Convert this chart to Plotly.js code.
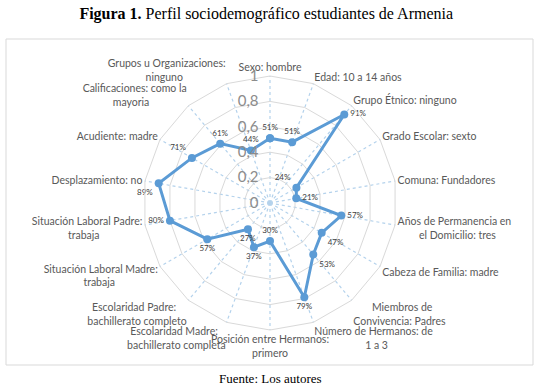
<!DOCTYPE html>
<html>
<head>
<meta charset="utf-8">
<script src="https://cdn.plot.ly/plotly-3.0.1.min.js"></script>
<style>html,body{margin:0;padding:0;background:#fff;}#chart{width:540px;height:389px;}</style>
</head>
<body>
<div id="chart"></div>
<script>
var categories = [
  "Sexo: hombre",
  "Edad: 10 a 14 años",
  "Grupo Étnico: ninguno",
  "Grado Escolar: sexto",
  "Comuna: Fundadores",
  "Años de Permanencia en<br>el Domicilio: tres",
  "Cabeza de Familia: madre",
  "Miembros de<br>Convivencia: Padres",
  "Número de Hermanos: de<br>1 a 3",
  "Posición entre Hermanos:<br>primero",
  "Escolaridad Madre:<br>bachillerato completa",
  "Escolaridad Padre:<br>bachillerato completo",
  "Situación Laboral Madre:<br>trabaja",
  "Situación Laboral Padre:<br>trabaja",
  "Desplazamiento: no",
  "Acudiente: madre",
  "Calificaciones: como la<br>mayoria",
  "Grupos u Organizaciones:<br>ninguno"
];
var values = [0.51, 0.51, 0.91, 0.24, 0.21, 0.57, 0.47, 0.53, 0.79, 0.30, 0.37, 0.27, 0.57, 0.80, 0.89, 0.71, 0.61, 0.44];
var labelPositions = ["top center","top center","middle right","top left","middle right","middle right","bottom right","bottom right","bottom center","top center","bottom center","bottom center","bottom center","middle left","bottom left","top left","top center","top center"];
var radialTicks = [0, 0.2, 0.4, 0.6, 0.8, 1];
var radialTickText = ["0", "0,2", "0,4", "0,6", "0,8", "1"];

var HIDE = '<span style="color:rgba(0,0,0,0)">';
// center multi-line category labels (Excel style) by padding shorter lines
var ctx = document.createElement('canvas').getContext('2d');
ctx.font = '10.5px Lato';
function w(s){ return ctx.measureText(s).width; }
var nbsp = '\u00a0';
var spW = w(nbsp) || 2.9;
function repeat(s, n){ var o=''; for (var k=0;k<n;k++) o+=s; return o; }
var shown = categories.map(function(lab, i){
  var lines = lab.split('<br>');
  if (lines.length < 2) return lab;
  var ang = (90 - i * 360 / categories.length) * Math.PI / 180;
  var c = Math.cos(ang);
  if (Math.abs(c) < 0.1) return lab;
  var ws = lines.map(w);
  var W = Math.max.apply(null, ws);
  return lines.map(function(l, j){
    var n = Math.round((W - ws[j]) / 2 / spW);
    if (n <= 0) return l;
    var pad = repeat(nbsp, n);
    return c > 0 ? HIDE + '.' + '</span>' + pad + l : l + pad + HIDE + '.</span>';
  }).join('<br>');
});

var theta = shown.concat([shown[0]]);
var r = values.concat([values[0]]);
var txt = values.map(function(v){return Math.round(v*100)+'%';}).concat(['']);
var tpos = labelPositions.concat(['top center']);

var trace = {
  type: 'scatterpolar',
  mode: 'lines+markers+text',
  r: r,
  theta: theta,
  text: txt,
  textposition: tpos,
  textfont: {family: 'Lato, sans-serif', size: 8, color: '#404040'},
  line: {color: '#5b9bd5', width: 3},
  marker: {color: '#5b9bd5', size: 8},
  hoverinfo: 'none',
  cliponaxis: false
};

var layout = {
  width: 540, height: 389,
  margin: {l: 0, r: 0, t: 0, b: 0},
  paper_bgcolor: '#ffffff',
  showlegend: false,
  separators: ', ',
  title: {
    text: '<b>Figura 1.</b> Perfil sociodemográfico estudiantes de Armenia',
    font: {family: 'Liberation Serif, serif', size: 16, color: '#000'},
    x: 0.493, xref: 'paper', xanchor: 'center',
    y: 0.966, yref: 'container', yanchor: 'middle'
  },
  polar: {
    domain: {x: [143/540, 397/540], y: [59/389, 313/389]},
    bgcolor: 'rgba(0,0,0,0)',
    gridshape: 'linear',
    angularaxis: {
      type: 'category',
      categoryorder: 'array',
      categoryarray: shown,
      rotation: 90,
      direction: 'clockwise',
      showline: true,
      linecolor: '#d9d9d9',
      linewidth: 1,
      gridcolor: '#b4d2ec',
      griddash: 'dot',
      gridwidth: 1.2,
      ticks: '',
      tickfont: {family: 'Lato, sans-serif', size: 10.5, color: '#595959'}
    },
    radialaxis: {
      range: [0, 1],
      angle: 90,
      side: 'counterclockwise',
      tickangle: 90,
      tickmode: 'array',
      tickvals: radialTicks,
      ticktext: radialTickText.map(function(t){ return t + HIDE + '0</span>'; }),
      showline: false,
      ticks: '',
      gridcolor: '#d9d9d9',
      gridwidth: 1,
      tickfont: {family: 'Lato, sans-serif', size: 15, color: '#8c8c8c'}
    }
  },
  shapes: [{
    type: 'rect', xref: 'paper', yref: 'paper',
    x0: 6/540, x1: 533/540, y0: 1 - 365/389, y1: 1 - 39/389,
    line: {color: '#d9d9d9', width: 1}, fillcolor: 'rgba(0,0,0,0)', layer: 'below'
  }],
  annotations: [{
    text: 'Fuente: Los autores',
    xref: 'paper', yref: 'paper', x: 0.5, y: 1 - 378/389,
    xanchor: 'center', yanchor: 'middle', showarrow: false,
    font: {family: 'Liberation Serif, serif', size: 13, color: '#000'}
  }]
};

Plotly.newPlot('chart', [trace], layout, {displayModeBar: false, staticPlot: true});
</script>
</body>
</html>
